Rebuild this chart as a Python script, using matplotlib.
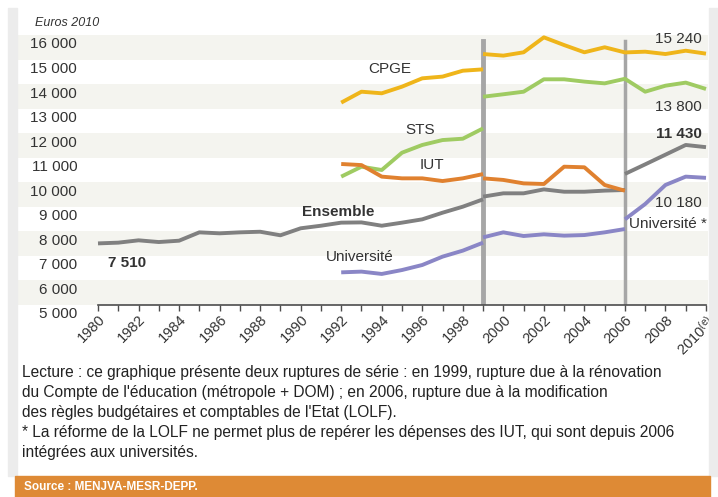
import matplotlib.pyplot as plt
import matplotlib.transforms as mtransforms
from matplotlib.patches import Rectangle

plt.rcParams['font.family'] = ['Liberation Sans', 'DejaVu Sans']

# data (euros 2010 par etudiant)
years_a = list(range(1980, 2000))
ensemble_a = [7510, 7540, 7635, 7565, 7620, 7960, 7920, 7960, 7985, 7840,
              8125, 8230, 8355, 8365, 8230, 8355, 8490, 8760, 9005, 9305]
years_92 = list(range(1992, 2000))
years_99_06 = list(range(1999, 2007))
years_06 = list(range(2006, 2011))
years_99_10 = list(range(1999, 2011))

ensemble_b = [9415, 9550, 9550, 9710, 9615, 9615, 9660, 9685]
ensemble_c = [10340, 10730, 11125, 11520, 11430]

univ_a = [6330, 6360, 6265, 6425, 6630, 6970, 7215, 7540]
univ_b = [7755, 7960, 7810, 7880, 7825, 7850, 7960, 8095]
univ_c = [8490, 9115, 9890, 10230, 10180]

cpge_a = [13245, 13690, 13625, 13895, 14235, 14305, 14545, 14600]
cpge_b = [15225, 15160, 15295, 15905, 15590, 15295, 15500, 15290, 15320,
          15225, 15360, 15240]

sts_a = [10230, 10635, 10500, 11205, 11520, 11720, 11775, 12195]
sts_b = [13485, 13585, 13690, 14195, 14195, 14100, 14030, 14215, 13690,
         13935, 14060, 13800]

iut_a = [10745, 10700, 10230, 10160, 10160, 10050, 10160, 10335]
iut_b = [10160, 10095, 9955, 9930, 10635, 10610, 9890, 9655]

break_years = [1999, 2006]
ytick_vals = list(range(5000, 16001, 1000))
ytick_labels = ['5 000', '6 000', '7 000', '8 000', '9 000', '10 000', '11 000',
                '12 000', '13 000', '14 000', '15 000', '16 000']
xtick_years = list(range(1980, 2011, 2))
xtick_labels = [str(y) for y in range(1980, 2010, 2)] + ['2010$^{(e)}$']

c_cpge = '#efb51a'
c_sts = '#9fcb62'
c_iut = '#e0812f'
c_ens = '#808080'
c_univ = '#8a86c6'
txt = '#333333'

plt.rcParams['mathtext.fontset'] = 'custom'
plt.rcParams['mathtext.rm'] = 'Liberation Sans'
plt.rcParams['mathtext.default'] = 'rm'

fig = plt.figure(figsize=(7.18, 4.97), dpi=100)
W, H = 718, 497
ax = fig.add_axes([98 / W, 1 - 305 / H, 608 / W, 270 / H])
ax.set_xlim(1980, 2010)
ax.set_ylim(5000, 16000)
ax.patch.set_visible(False)

# side strips of the panel
fig.patches.append(Rectangle((8 / W, 1 - 476 / H), 9 / W, 468 / H,
                             transform=fig.transFigure, color='#ececec', zorder=0))
fig.patches.append(Rectangle((709 / W, 1 - 476 / H), 9 / W, 468 / H,
                             transform=fig.transFigure, color='#ececec', zorder=0))

# alternating bands
trans = mtransforms.blended_transform_factory(ax.transAxes, ax.transData)
for lo in range(5000, 16000, 2000):
    ax.add_patch(Rectangle((-80 / 608, lo), 690 / 608, 1000, transform=trans,
                           color='#f4f4ef', zorder=0, clip_on=False, lw=0))

for yr in break_years:
    ax.axvline(yr, ymin=0, ymax=(15760 - 5000) / 11000, color='#a6a6a6',
               lw=3.5 if yr == 1999 else 2.5, zorder=1)

kw = dict(lw=2.8, solid_capstyle='butt', clip_on=False, zorder=3)
ax.plot(years_a, ensemble_a, color=c_ens, **kw)
ax.plot(years_99_06, ensemble_b, color=c_ens, **kw)
ax.plot(years_06, ensemble_c, color=c_ens, **kw)
ax.plot(years_92, univ_a, color=c_univ, **kw)
ax.plot(years_99_06, univ_b, color=c_univ, **kw)
ax.plot(years_06, univ_c, color=c_univ, **kw)
ax.plot(years_92, cpge_a, color=c_cpge, **kw)
ax.plot(years_99_10, cpge_b, color=c_cpge, **kw)
ax.plot(years_92, sts_a, color=c_sts, **kw)
ax.plot(years_99_10, sts_b, color=c_sts, **kw)
ax.plot(years_92, iut_a, color=c_iut, **kw)
ax.plot(years_99_06, iut_b, color=c_iut, **kw)

# axes styling
for s in ['top', 'right', 'left']:
    ax.spines[s].set_visible(False)
ax.spines['bottom'].set_color('#4d4d4d')
ax.spines['bottom'].set_linewidth(1.2)
ax.set_yticks(ytick_vals)
ax.set_yticklabels(ytick_labels)
ax.tick_params(axis='y', length=0, pad=15, labelsize=11, labelcolor=txt)
offset = mtransforms.ScaledTranslation(0, -8 / 100, fig.dpi_scale_trans)
for lab in ax.get_yticklabels():
    lab.set_transform(lab.get_transform() + offset)

ax.set_xticks(range(1980, 2011), minor=True)
ax.set_xticks(xtick_years)
ax.set_xticklabels(xtick_labels, rotation=45, ha='right', va='top',
                   rotation_mode='anchor')
ax.tick_params(axis='x', which='both', direction='out', length=4, width=1,
               color='#4d4d4d', labelsize=10.5, labelcolor=txt, pad=1.5)

# series labels
ax.text(1994.4, 14615, 'CPGE', ha='center', va='center', fontsize=11, color=txt)
ax.text(1995.9, 12130, 'STS', ha='center', va='center', fontsize=11, color=txt)
ax.text(1996.5, 10704, 'IUT', ha='center', va='center', fontsize=11, color=txt)
ax.text(1991.85, 8789, 'Ensemble', ha='center', va='center', fontsize=11,
        fontweight='bold', color=txt)
ax.text(1992.9, 6955, 'Université', ha='center', va='center', fontsize=11, color=txt)
ax.text(1981.43, 6711, '7 510', ha='center', va='center', fontsize=11,
        fontweight='bold', color=txt)
ax.text(2009.8, 15837, '15 240', ha='right', va='center', fontsize=11, color=txt)
ax.text(2009.8, 13067, '13 800', ha='right', va='center', fontsize=11, color=txt)
ax.text(2009.8, 11967, '11 430', ha='right', va='center', fontsize=11,
        fontweight='bold', color=txt)
ax.text(2009.8, 9155, '10 180', ha='right', va='center', fontsize=11, color=txt)
ax.text(2010.05, 8300, 'Université *', ha='right', va='center', fontsize=11, color=txt)

fig.text(35 / W, 1 - 23 / H, 'Euros 2010', ha='left', va='center', fontsize=9,
         style='italic', color=txt)

notes = ["Lecture : ce graphique présente deux ruptures de série : en 1999, rupture due à la rénovation",
         "du Compte de l'éducation (métropole + DOM) ; en 2006, rupture due à la modification",
         "des règles budgétaires et comptables de l'Etat (LOLF).",
         "* La réforme de la LOLF ne permet plus de repérer les dépenses des IUT, qui sont depuis 2006",
         "intégrées aux universités."]
for i, line in enumerate(notes):
    fig.text(22 / W, 1 - (372 + i * 20.2) / H, line, ha='left', va='center',
             fontsize=11.2, color='#222222')

fig.patches.append(Rectangle((15 / W, 0), 695 / W, 21 / H, transform=fig.transFigure,
                             color='#de8a35', zorder=0))
fig.text(24 / W, 1 - 487 / H, 'Source : MENJVA-MESR-DEPP.', ha='left', va='center',
         fontsize=8.5, fontweight='bold', color='white')

fig.savefig('out.png', dpi=100)
